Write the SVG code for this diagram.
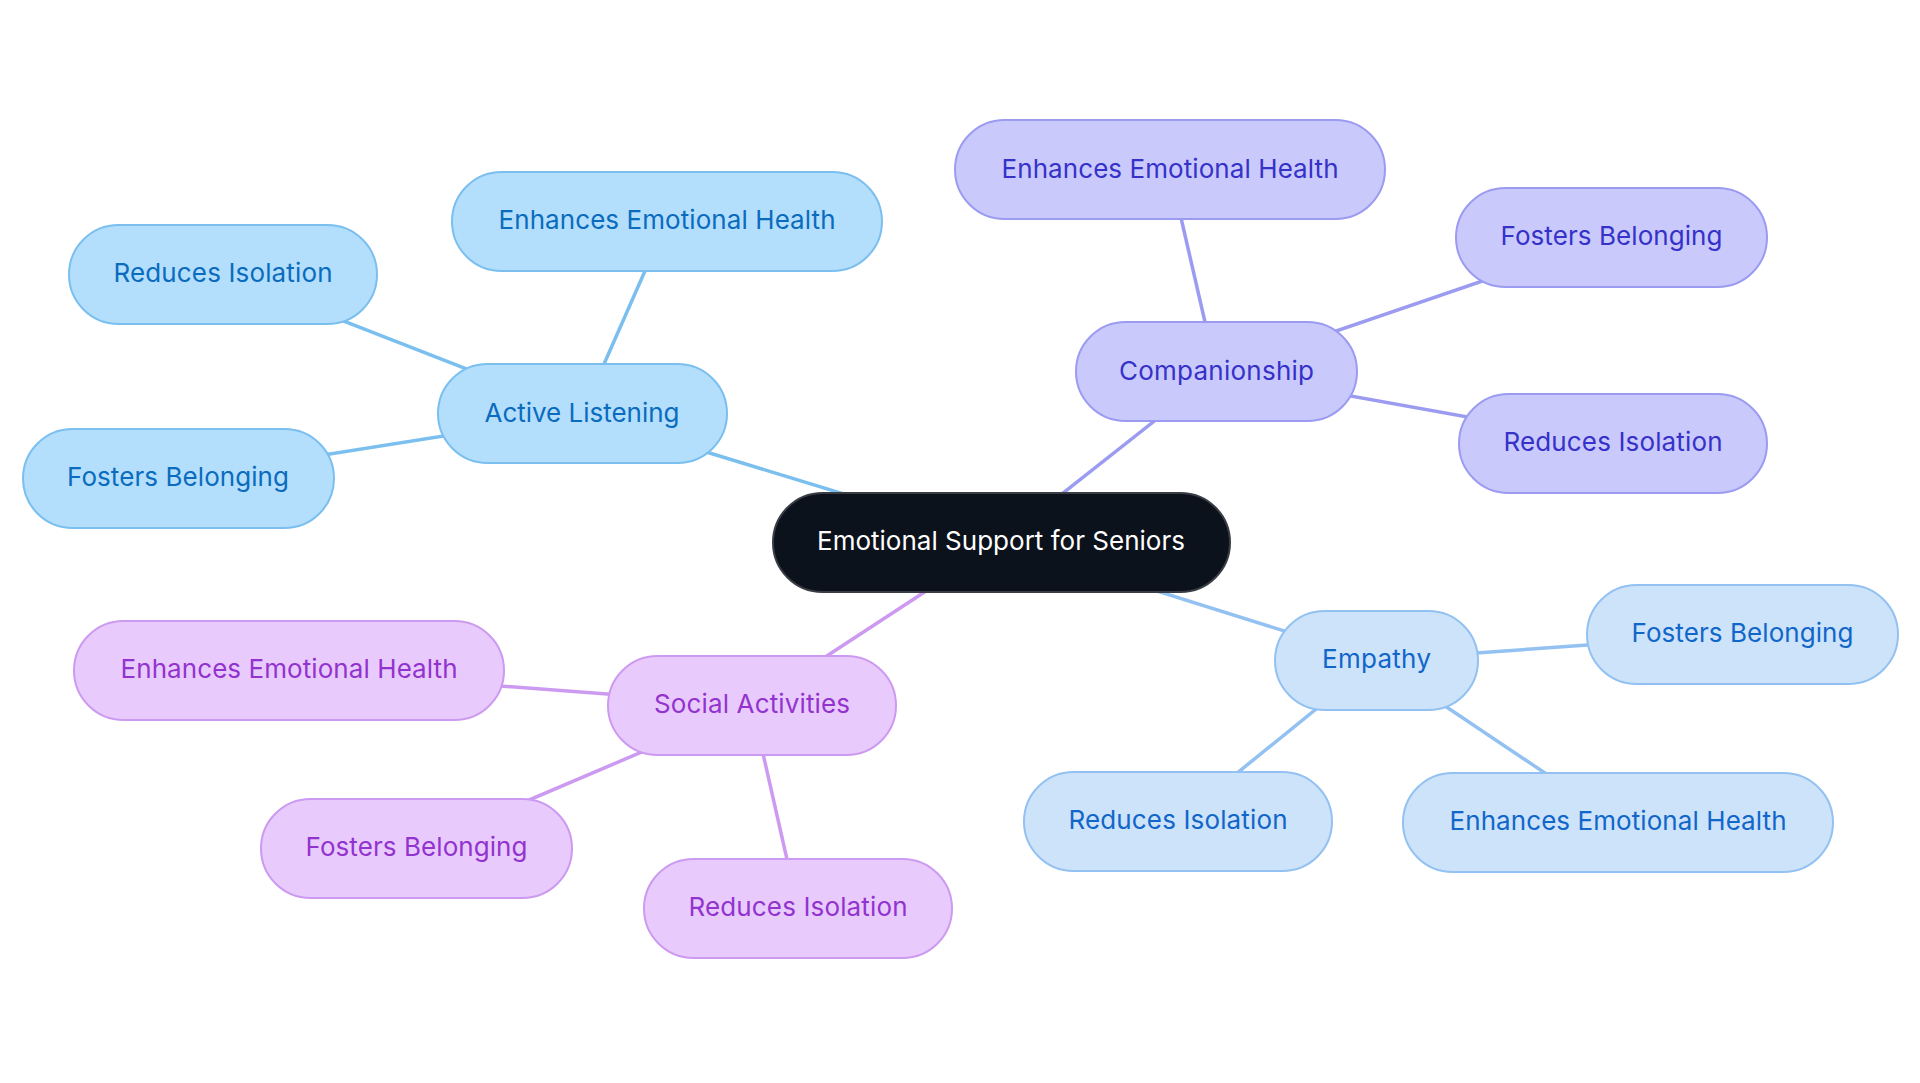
<svg xmlns="http://www.w3.org/2000/svg" width="1920" height="1083" viewBox="0 0 1920 1083">
<style>
text{font-family:Inter,"Noto Sans","Liberation Sans",sans-serif;font-size:26px;text-anchor:middle}
.edge{stroke-width:3.5;fill:none}
.al rect{fill:#b3dffd;stroke:#7bbfef;stroke-width:2}
.al text{fill:#0b6bbd}
.cp rect{fill:#c9c9fc;stroke:#9b9bf1;stroke-width:2}
.cp text{fill:#3531c9}
.em rect{fill:#cde3fa;stroke:#93c1f1;stroke-width:2}
.em text{fill:#1166c9}
.sa rect{fill:#e8cbfc;stroke:#cc9af0;stroke-width:2}
.sa text{fill:#9333cf}
.ct rect{fill:#0c121b;stroke:#3a3d44;stroke-width:2}
.ct text{fill:#ffffff}
</style>
<rect width="1920" height="1083" fill="#ffffff"/>
<g id="connectors">
<line class="edge" stroke="#7bbfef" x1="1001" y1="542" x2="582" y2="414"/>
<line class="edge" stroke="#7bbfef" x1="582" y1="414" x2="667" y2="221"/>
<line class="edge" stroke="#7bbfef" x1="582" y1="414" x2="223" y2="274"/>
<line class="edge" stroke="#7bbfef" x1="582" y1="414" x2="178" y2="478"/>
<line class="edge" stroke="#9b9bf1" x1="1001" y1="542" x2="1216.5" y2="372"/>
<line class="edge" stroke="#9b9bf1" x1="1216.5" y1="372" x2="1170" y2="170"/>
<line class="edge" stroke="#9b9bf1" x1="1216.5" y1="372" x2="1611.5" y2="237"/>
<line class="edge" stroke="#9b9bf1" x1="1216.5" y1="372" x2="1613" y2="443"/>
<line class="edge" stroke="#93c1f1" x1="1001" y1="542" x2="1376.5" y2="660"/>
<line class="edge" stroke="#93c1f1" x1="1376.5" y1="660" x2="1742.5" y2="634"/>
<line class="edge" stroke="#93c1f1" x1="1376.5" y1="660" x2="1178" y2="821"/>
<line class="edge" stroke="#93c1f1" x1="1376.5" y1="660" x2="1618" y2="822"/>
<line class="edge" stroke="#cc9af0" x1="1001" y1="542" x2="752" y2="705"/>
<line class="edge" stroke="#cc9af0" x1="752" y1="705" x2="289" y2="670"/>
<line class="edge" stroke="#cc9af0" x1="752" y1="705" x2="416.5" y2="848"/>
<line class="edge" stroke="#cc9af0" x1="752" y1="705" x2="798" y2="908"/>
</g>
<g id="center" class="ct"><rect x="773" y="493" width="457" height="99" rx="49.5"/><text x="1001" y="550" textLength="368">Emotional Support for Seniors</text></g>
<g id="active-listening" class="al"><rect x="438" y="364" width="289" height="99" rx="49.5"/><text x="582" y="422" textLength="195">Active Listening</text></g>
<g id="al-enhances" class="al"><rect x="452" y="172" width="430" height="99" rx="49.5"/><text x="667" y="229" textLength="337">Enhances Emotional Health</text></g>
<g id="al-reduces" class="al"><rect x="69" y="225" width="308" height="99" rx="49.5"/><text x="223" y="282" textLength="219">Reduces Isolation</text></g>
<g id="al-fosters" class="al"><rect x="23" y="429" width="311" height="99" rx="49.5"/><text x="178" y="486" textLength="222">Fosters Belonging</text></g>
<g id="companionship" class="cp"><rect x="1076" y="322" width="281" height="99" rx="49.5"/><text x="1216.5" y="380" textLength="195">Companionship</text></g>
<g id="cp-enhances" class="cp"><rect x="955" y="120" width="430" height="99" rx="49.5"/><text x="1170" y="178" textLength="337">Enhances Emotional Health</text></g>
<g id="cp-fosters" class="cp"><rect x="1456" y="188" width="311" height="99" rx="49.5"/><text x="1611.5" y="245" textLength="222">Fosters Belonging</text></g>
<g id="cp-reduces" class="cp"><rect x="1459" y="394" width="308" height="99" rx="49.5"/><text x="1613" y="451" textLength="219">Reduces Isolation</text></g>
<g id="empathy" class="em"><rect x="1275" y="611" width="203" height="99" rx="49.5"/><text x="1376.5" y="668" textLength="109">Empathy</text></g>
<g id="em-fosters" class="em"><rect x="1587" y="585" width="311" height="99" rx="49.5"/><text x="1742.5" y="642" textLength="222">Fosters Belonging</text></g>
<g id="em-reduces" class="em"><rect x="1024" y="772" width="308" height="99" rx="49.5"/><text x="1178" y="829" textLength="219">Reduces Isolation</text></g>
<g id="em-enhances" class="em"><rect x="1403" y="773" width="430" height="99" rx="49.5"/><text x="1618" y="830" textLength="337">Enhances Emotional Health</text></g>
<g id="social-activities" class="sa"><rect x="608" y="656" width="288" height="99" rx="49.5"/><text x="752" y="713" textLength="196">Social Activities</text></g>
<g id="sa-enhances" class="sa"><rect x="74" y="621" width="430" height="99" rx="49.5"/><text x="289" y="678" textLength="337">Enhances Emotional Health</text></g>
<g id="sa-fosters" class="sa"><rect x="261" y="799" width="311" height="99" rx="49.5"/><text x="416.5" y="856" textLength="222">Fosters Belonging</text></g>
<g id="sa-reduces" class="sa"><rect x="644" y="859" width="308" height="99" rx="49.5"/><text x="798" y="916" textLength="219">Reduces Isolation</text></g>
</svg>
